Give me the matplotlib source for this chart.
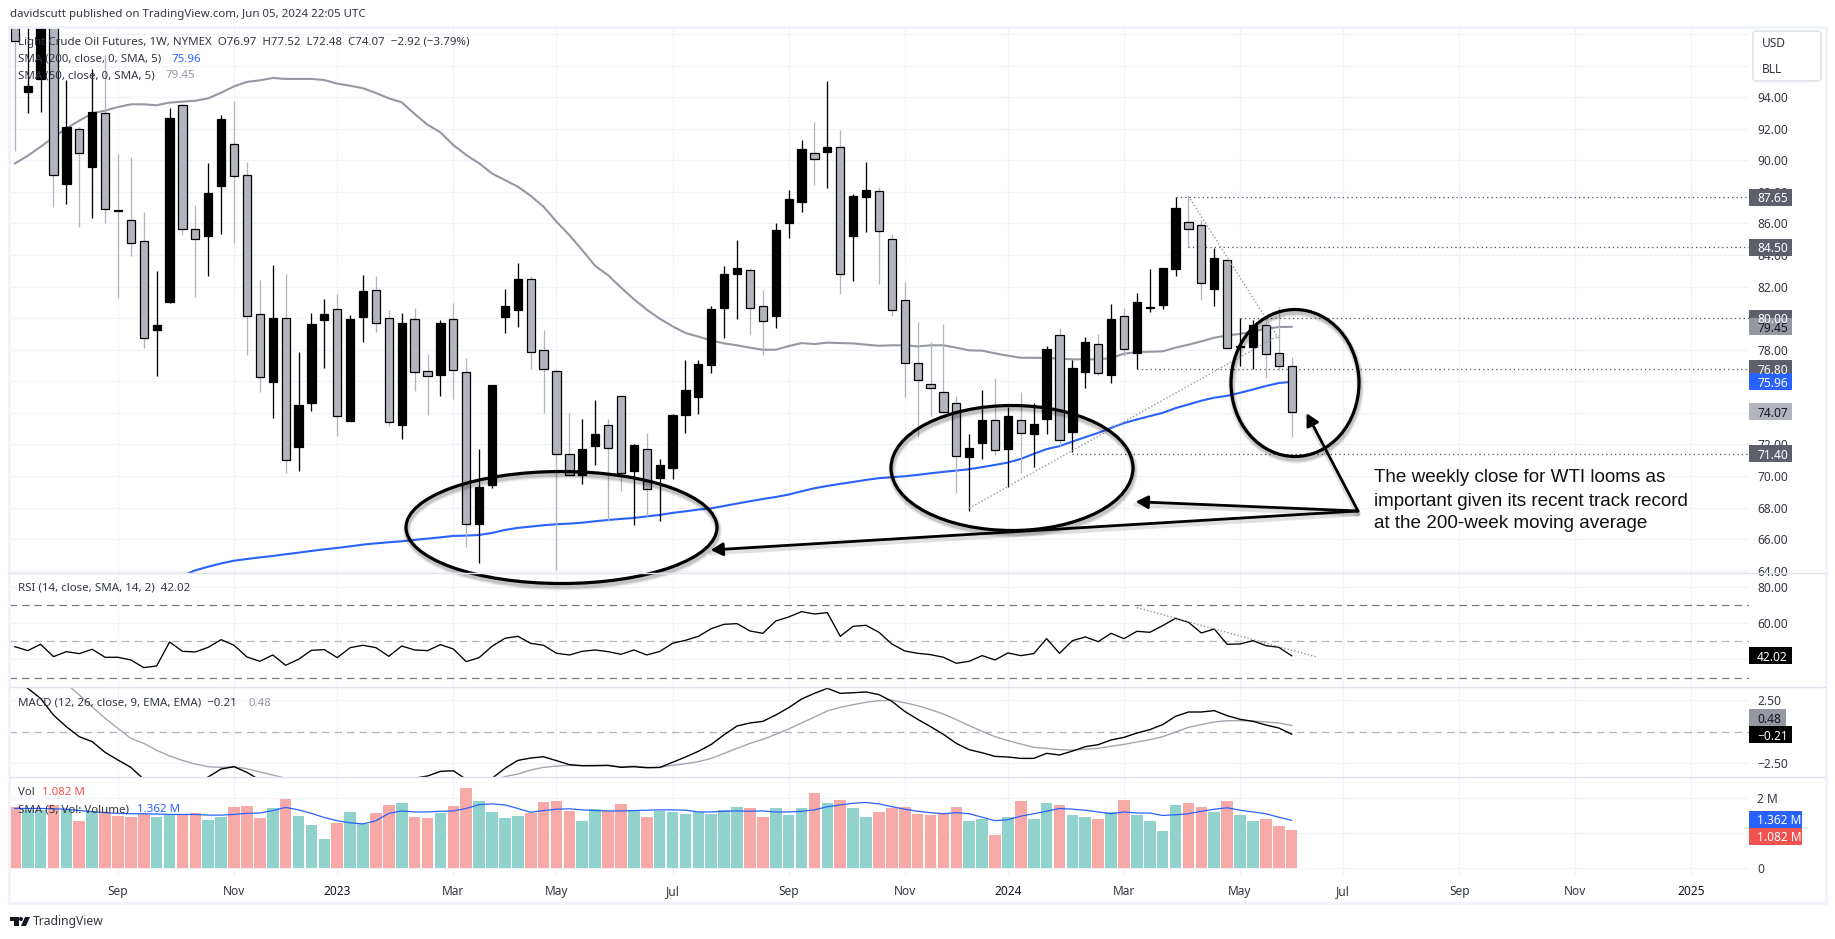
import numpy as np
import matplotlib
matplotlib.use("Agg")
import matplotlib.pyplot as plt
import matplotlib.patches as patches

plt.rcParams["font.family"] = ["Noto Sans", "DejaVu Sans"]

# week index: 0 is the week of Sep 05 2022
weeks = np.arange(-8, 92)

opens = [100.0, 94.35, 95.14, 99.5, 88.47, 91.96, 89.59, 92.98, 86.85, 86.25,
         84.86, 79.23, 81.03, 93.49, 85.62, 85.22, 88.39, 91.01, 89.04, 80.28,
         75.95, 80.03, 71.82, 74.62, 79.86, 80.6, 73.47, 80.07, 81.81, 80.03,
         73.22, 79.97, 76.67, 76.39, 79.97, 76.6, 66.96, 69.43, 80.07, 80.54,
         82.51, 78.0, 76.67, 71.4, 70.05, 71.89, 73.24, 75.08, 70.3, 71.72,
         69.86, 70.49, 73.85, 75.0, 77.05, 80.65, 82.8, 83.08, 80.79, 80.12,
         86.04, 87.37, 90.44, 90.54, 90.82, 85.21, 87.69, 88.03, 85.04, 81.17,
         77.18, 75.84, 75.34, 74.62, 71.19, 72.08, 73.56, 71.7, 73.56, 72.65,
         73.6, 78.95, 72.78, 76.58, 78.38, 76.39, 80.16, 77.79, 80.62, 80.83,
         83.12, 86.12, 85.93, 81.85, 83.71, 78.18, 78.17, 79.59, 77.79, 76.97]
highs = [101.0, 99.5, 100.0, 101.0, 95.09, 92.13, 95.77, 96.68, 90.4, 90.19,
         86.72, 82.97, 93.3, 93.55, 87.16, 89.81, 92.87, 93.76, 89.87, 82.4,
         83.36, 82.78, 77.83, 80.35, 81.19, 81.51, 80.18, 82.72, 82.66, 80.54,
         80.35, 80.67, 77.75, 79.9, 80.98, 77.49, 71.72, 75.74, 81.83, 83.52,
         82.66, 79.23, 76.77, 73.98, 73.64, 74.79, 73.58, 75.08, 72.03, 72.75,
         71.08, 73.94, 77.36, 77.32, 80.75, 83.29, 84.94, 83.2, 81.77, 86.06,
         88.11, 91.28, 92.43, 95.03, 91.92, 87.84, 89.87, 88.3, 85.32, 82.27,
         79.78, 78.51, 79.65, 75.08, 72.63, 75.42, 76.22, 74.36, 75.29, 74.64,
         78.25, 79.38, 77.32, 78.8, 78.97, 80.88, 80.67, 81.62, 83.14, 83.2,
         87.65, 87.73, 86.25, 84.47, 83.71, 80.03, 79.86, 79.76, 80.69, 77.52]
lows = [90.6, 92.98, 93.08, 87.06, 87.23, 85.79, 86.36, 86.04, 81.3, 83.95,
        78.1, 76.31, 80.96, 85.28, 81.34, 82.68, 85.36, 84.77, 77.66, 75.31,
        73.66, 70.17, 70.3, 74.11, 76.84, 72.52, 73.47, 78.49, 79.12, 73.16,
        72.33, 75.38, 73.86, 75.06, 74.87, 65.48, 64.46, 69.24, 79.06, 79.44,
        76.77, 73.98, 64.05, 70.05, 69.46, 70.72, 67.17, 69.07, 66.9, 67.44,
        67.13, 69.79, 72.71, 73.9, 76.52, 78.74, 79.95, 78.99, 77.64, 79.38,
        85.09, 86.74, 88.45, 88.26, 81.55, 82.36, 85.47, 82.17, 80.14, 75.0,
        72.46, 73.83, 74.0, 68.91, 67.77, 71.07, 71.3, 69.33, 70.17, 70.56,
        72.63, 71.93, 71.55, 75.57, 76.37, 75.89, 77.62, 76.8, 80.39, 80.58,
        82.68, 84.5, 81.15, 80.77, 78.02, 76.96, 76.77, 76.2, 76.73, 72.48]
closes = [97.58, 94.71, 99.0, 89.04, 92.09, 90.44, 93.04, 86.89, 86.8, 84.79,
          78.76, 79.54, 92.66, 85.62, 85.03, 87.92, 92.6, 88.98, 80.16, 76.27,
          80.03, 71.02, 74.51, 79.61, 80.28, 73.81, 79.93, 81.7, 79.71, 73.43,
          79.71, 76.6, 76.33, 79.71, 76.73, 66.96, 69.33, 75.74, 80.75, 82.51,
          77.87, 76.8, 71.4, 70.05, 71.72, 72.67, 71.76, 70.19, 71.97, 69.18,
          70.7, 73.87, 75.46, 77.11, 80.6, 82.82, 83.2, 80.65, 79.84, 85.57,
          87.52, 90.75, 90.06, 90.82, 82.82, 87.73, 88.09, 85.53, 80.54, 77.18,
          76.1, 75.59, 74.07, 71.27, 71.78, 73.56, 71.66, 73.81, 72.73, 73.31,
          78.06, 72.29, 76.86, 78.51, 76.54, 79.97, 78.06, 81.05, 80.7, 83.2,
          86.97, 85.68, 82.23, 83.84, 78.13, 78.25, 79.59, 77.75, 76.99, 74.07]

sma_50 = [89.8, 90.29, 90.86, 91.46, 92.03, 92.51, 92.98, 93.15, 93.38, 93.55,
          93.55, 93.49, 93.66, 93.72, 93.78, 93.93, 94.29, 94.69, 94.97, 95.07,
          95.22, 95.16, 95.16, 95.16, 95.09, 94.86, 94.73, 94.57, 94.27, 93.93,
          93.68, 92.94, 92.26, 91.77, 90.97, 90.34, 89.81, 89.17, 88.75, 88.33,
          87.75, 87.06, 86.11, 85.26, 84.31, 83.31, 82.72, 81.94, 81.2, 80.54,
          79.97, 79.48, 79.06, 78.83, 78.59, 78.4, 78.28, 78.13, 78.0, 78.0,
          78.23, 78.42, 78.36, 78.45, 78.42, 78.4, 78.32, 78.25, 78.28, 78.28,
          78.21, 78.28, 78.28, 78.13, 77.96, 77.94, 77.77, 77.62, 77.49, 77.49,
          77.47, 77.43, 77.39, 77.39, 77.39, 77.47, 77.75, 77.85, 77.87, 77.9,
          78.13, 78.32, 78.53, 78.76, 78.91, 79.0, 79.14, 79.33, 79.44, 79.45]
sma_200 = [np.nan, np.nan, np.nan, np.nan, np.nan, np.nan, np.nan, np.nan, np.nan, np.nan,
           np.nan, np.nan, np.nan, 63.68, 64.02, 64.25, 64.46, 64.63, 64.74, 64.84,
           64.93, 65.04, 65.14, 65.25, 65.35, 65.44, 65.54, 65.65, 65.73, 65.8,
           65.86, 65.95, 66.03, 66.11, 66.2, 66.22, 66.26, 66.39, 66.58, 66.71,
           66.79, 66.88, 66.94, 66.98, 67.04, 67.13, 67.21, 67.28, 67.34, 67.44,
           67.53, 67.66, 67.76, 67.87, 67.95, 68.1, 68.25, 68.4, 68.54, 68.67,
           68.82, 69.03, 69.22, 69.37, 69.5, 69.62, 69.75, 69.86, 69.92, 69.98,
           70.07, 70.17, 70.26, 70.34, 70.43, 70.56, 70.7, 70.85, 71.08, 71.4,
           71.7, 71.89, 72.18, 72.46, 72.73, 73.05, 73.35, 73.58, 73.79, 74.0,
           74.3, 74.53, 74.77, 74.96, 75.08, 75.27, 75.48, 75.7, 75.89, 75.96]

rsi = [47.05, 44.86, 48.34, 41.56, 44.3, 43.2, 45.6, 41.2, 41.2, 39.73,
       35.52, 36.43, 49.62, 44.49, 44.13, 46.69, 50.9, 47.79, 41.38, 39.0,
       42.48, 36.8, 40.1, 45.04, 45.41, 41.01, 46.5, 47.79, 46.5, 41.74,
       47.42, 45.22, 44.86, 48.16, 45.77, 38.81, 41.01, 47.24, 51.63, 52.73,
       48.89, 47.79, 43.4, 42.48, 44.49, 45.22, 44.3, 42.84, 45.22, 42.48,
       44.4, 48.89, 50.54, 52.73, 56.94, 59.33, 59.7, 55.66, 54.38, 61.16,
       63.36, 66.29, 65.0, 65.74, 52.73, 58.23, 58.78, 54.93, 48.52, 44.68,
       43.4, 42.66, 41.2, 37.9, 39.0, 42.11, 39.73, 43.58, 42.11, 43.2,
       51.45, 43.4, 50.35, 52.37, 49.8, 54.38, 51.45, 55.48, 54.93, 58.6,
       62.62, 60.43, 54.56, 56.76, 48.34, 48.52, 50.35, 47.6, 46.69, 42.02]

macd_line = [4.3, 3.43, 2.63, 1.31, 0.38, -0.41, -0.8, -1.65, -2.26, -2.84,
             -3.79, -4.6, -4.9, -4.6, -4.2, -3.6, -2.97, -2.79, -3.24, -3.85,
             -4.1, -4.6, -4.9, -5.0, -4.9, -4.9, -4.7, -4.5, -4.5, -4.6,
             -4.3, -3.7, -3.53, -3.16, -3.11, -3.79, -4.4, -3.71, -2.92, -2.29,
             -2.1, -2.0, -2.31, -2.63, -2.71, -2.71, -2.68, -2.84, -2.79, -2.87,
             -2.85, -2.44, -2.02, -1.57, -1.02, -0.25, 0.44, 0.68, 0.81, 1.31,
             1.89, 2.58, 3.03, 3.43, 3.03, 3.08, 3.14, 2.93, 2.4, 1.6,
             0.97, 0.39, -0.22, -0.94, -1.44, -1.68, -1.97, -2.02, -2.13, -2.13,
             -1.73, -1.86, -1.55, -1.2, -1.04, -0.67, -0.46, -0.12, 0.15, 0.55,
             1.21, 1.55, 1.55, 1.66, 1.26, 0.97, 0.81, 0.52, 0.28, -0.21]
macd_signal = [6.0, 5.5, 5.0, 4.5, 3.8, 2.9, 1.97, 1.05, 0.25, -0.54,
               -0.94, -1.49, -1.94, -2.29, -2.58, -2.79, -2.84, -2.79, -2.95, -3.21,
               -3.45, -3.71, -4.0, -4.2, -4.4, -4.5, -4.6, -4.6, -4.6, -4.6,
               -4.5, -4.4, -4.3, -4.1, -4.0, -3.95, -4.0, -3.95, -3.58, -3.37,
               -3.05, -2.84, -2.74, -2.68, -2.71, -2.68, -2.71, -2.79, -2.74, -2.84,
               -2.84, -2.68, -2.55, -2.39, -2.13, -1.73, -1.33, -0.94, -0.62, -0.22,
               0.2, 0.68, 1.15, 1.63, 1.92, 2.13, 2.32, 2.45, 2.48, 2.29,
               2.05, 1.74, 1.39, 0.94, 0.47, 0.02, -0.41, -0.72, -0.99, -1.25,
               -1.33, -1.44, -1.47, -1.41, -1.33, -1.17, -1.02, -0.83, -0.65, -0.41,
               -0.04, 0.33, 0.55, 0.76, 0.86, 0.86, 0.84, 0.76, 0.68, 0.48]

volume = [1.73, 1.66, 1.66, 1.79, 1.68, 1.34, 1.61, 1.61, 1.49, 1.46,
          1.53, 1.46, 1.53, 1.53, 1.56, 1.37, 1.46, 1.74, 1.77, 1.43,
          1.71, 1.97, 1.49, 1.23, 0.83, 1.29, 1.6, 1.26, 1.57, 1.8,
          1.86, 1.46, 1.43, 1.58, 1.77, 2.29, 1.91, 1.6, 1.43, 1.49,
          1.57, 1.89, 1.91, 1.63, 1.34, 1.69, 1.63, 1.83, 1.66, 1.46,
          1.64, 1.6, 1.55, 1.6, 1.55, 1.65, 1.75, 1.7, 1.45, 1.7,
          1.5, 1.7, 2.15, 1.85, 1.95, 1.7, 1.45, 1.6, 1.7, 1.75,
          1.55, 1.5, 1.55, 1.75, 1.35, 1.4, 0.95, 1.45, 1.9, 1.4,
          1.85, 1.8, 1.5, 1.45, 1.4, 1.6, 1.95, 1.5, 1.35, 1.05,
          1.8, 1.85, 1.75, 1.6, 1.9, 1.5, 1.35, 1.4, 1.2, 1.082]
volume_sma = [1.7, 1.7, 1.7, 1.69, 1.68, 1.64, 1.61, 1.58, 1.56, 1.55,
              1.55, 1.54, 1.53, 1.53, 1.53, 1.51, 1.51, 1.53, 1.56, 1.57,
              1.64, 1.73, 1.66, 1.56, 1.44, 1.35, 1.29, 1.26, 1.35, 1.56,
              1.63, 1.6, 1.6, 1.62, 1.63, 1.7, 1.81, 1.83, 1.8, 1.7,
              1.59, 1.64, 1.68, 1.69, 1.66, 1.64, 1.63, 1.63, 1.64, 1.65,
              1.66, 1.66, 1.65, 1.6, 1.6, 1.62, 1.63, 1.62, 1.63, 1.6,
              1.6, 1.62, 1.66, 1.75, 1.8, 1.85, 1.87, 1.83, 1.75, 1.68,
              1.62, 1.58, 1.55, 1.58, 1.55, 1.45, 1.35, 1.38, 1.48, 1.55,
              1.62, 1.7, 1.68, 1.65, 1.6, 1.55, 1.6, 1.57, 1.57, 1.5,
              1.52, 1.55, 1.62, 1.68, 1.72, 1.65, 1.6, 1.55, 1.45, 1.362]

price_ticks = [64, 66, 68, 70, 72, 74, 76, 78, 80, 82, 84, 86, 88, 90, 92, 94, 96, 98]
hidden_price_ticks = [96, 98]
rsi_ticks = [40, 60, 80]
macd_ticks = [-2.5, 2.5]
vol_ticks = [0, 1, 2]
time_ticks = [0, 9, 17, 26, 34, 43, 52, 61, 69, 78, 87, 95, 104, 113, 122]
time_labels = ["Sep", "Nov", "2023", "Mar", "May", "Jul", "Sep", "Nov", "2024", "Mar", "May", "Jul", "Sep", "Nov", "2025"]

# horizontal levels drawn on the chart: (first week, price)
levels = [(82, 87.65), (83, 84.5), (87, 80.0), (79, 76.8), (74, 71.4)]
trend_down = ([83, 90], [87.73, 78.7])
trend_up = ([66, 90], [67.96, 78.9])
rsi_trend = ([79, 93], [68.5, 41.2])

W, H = 1835, 939
LEFT, RIGHT = 9, 1749
TEXT = "#333740"
GRID = "#f0f3fa"
SEP = "#e0e3eb"
BODY_GRAY = "#b2b5be"
LINE_GRAY = "#9598a1"
BLUE = "#2962ff"
RED = "#ef5350"
TAG = "#5d606b"
FS = 8.6
LEGEND_FS = 8.27


def pane(top, bottom, ylim, yticks):
    ax = fig.add_axes([LEFT / W, 1 - bottom / H, (RIGHT - LEFT) / W, (bottom - top) / H])
    ax.set_xlim(-8.45, 126.46)
    ax.set_ylim(*ylim)
    ax.set_yticks(yticks)
    ax.set_xticks(time_ticks)
    ax.set_xticklabels([])
    ax.yaxis.tick_right()
    ax.tick_params(length=0, labelsize=FS, labelcolor=TEXT, pad=5.8)
    ax.grid(True, color=GRID, linewidth=0.9)
    ax.set_axisbelow(True)
    for s in ax.spines.values():
        s.set_visible(False)
    return ax


fig = plt.figure(figsize=(W / 100, H / 100), dpi=100, facecolor="white")

ax_main = pane(27, 572.7, (63.87, 98.45), price_ticks)
ax_rsi = pane(572.7, 687.3, (24.7, 87.7), rsi_ticks)
ax_macd = pane(687.3, 777.3, (-3.63, 3.51), macd_ticks)
ax_vol = pane(777.3, 875.7, (-0.22, 2.59), vol_ticks)

ax_main.set_yticklabels(["" if t in hidden_price_ticks else f"{t:.2f}" for t in price_ticks])
ax_rsi.set_yticklabels([f"{t:.2f}" for t in rsi_ticks])
ax_macd.set_yticklabels(["\u22122.50", "2.50"])
ax_vol.set_yticklabels(["0", "1 M", "2 M"])

ax_vol.set_xticklabels(time_labels)
ax_vol.tick_params(axis="x", pad=7, labelcolor=TEXT)
for lbl in ax_vol.get_xticklabels():
    if lbl.get_text().startswith("20"):
        lbl.set_fontweight("semibold")
        lbl.set_color("#131722")

# moving averages sit behind the candles
ax_main.plot(weeks, sma_50, color=LINE_GRAY, lw=1.5, zorder=2)
ax_main.plot(weeks, sma_200, color=BLUE, lw=1.5, zorder=2)

o = np.array(opens)
c = np.array(closes)
up = c >= o
wick_colors = ["black" if u else BODY_GRAY for u in up]
ax_main.vlines(weeks, lows, highs, colors=wick_colors, lw=0.95, zorder=3)
ax_main.bar(weeks[up], (c - o)[up], bottom=o[up], width=0.64, color="black", edgecolor="black", lw=0.9, zorder=4)
ax_main.bar(weeks[~up], (o - c)[~up], bottom=c[~up], width=0.64, color=BODY_GRAY, edgecolor="black", lw=0.9, zorder=4)

for start, level in levels:
    ax_main.hlines(level, start, 126.46, colors="#50535e", lw=0.9, linestyles=(0, (1, 2.5)), zorder=3)
ax_main.plot(*trend_down, color="#9598a1", lw=1, ls=(0, (1, 1.5)), zorder=5)
ax_main.plot(*trend_up, color="#9598a1", lw=1, ls=(0, (1, 1.5)), zorder=5)

# RSI
ax_rsi.axhline(70, color="#787b86", lw=0.9, ls=(0, (6, 4)))
ax_rsi.axhline(50, color=BODY_GRAY, lw=0.9, ls=(0, (6, 4)))
ax_rsi.axhline(30, color="#787b86", lw=0.9, ls=(0, (6, 4)))
ax_rsi.plot(weeks, rsi, color="black", lw=0.95)
ax_rsi.plot(*rsi_trend, color="#9598a1", lw=1, ls=(0, (1, 1.5)))

# MACD
ax_macd.axhline(0, color=BODY_GRAY, lw=0.9, ls=(0, (6, 4)))
ax_macd.plot(weeks, macd_signal, color="#a3a6af", lw=1)
ax_macd.plot(weeks, macd_line, color="black", lw=1)

# Volume
vol_colors = ["#92d2cc" if u else "#f7a9a7" for u in up]
ax_vol.bar(weeks, volume, width=0.9, color=vol_colors, zorder=2)
ax_vol.plot(weeks, volume_sma, color=BLUE, lw=0.9, zorder=3)

# overlay in pixel coordinates for frame, tags, drawings and text
ov = fig.add_axes([0, 0, 1, 1], zorder=10)
ov.set_xlim(0, W)
ov.set_ylim(H, 0)
ov.axis("off")
ov.patch.set_alpha(0)

ov.add_patch(patches.Rectangle((8.5, 27), 1817, 876, fill=False, edgecolor=GRID, lw=2))
for y in (572.7, 687.3, 777.3):
    ov.plot([9, 1825], [y, y], color=SEP, lw=1)


def value_y(ax, value):
    px = ax.transData.transform((0, value))[1]
    return H - px


def tag(ax, value, label, bg, fg="white", width=43):
    y = value_y(ax, value)
    ov.add_patch(patches.Rectangle((RIGHT, y - 8.5), width, 17, color=bg, lw=0))
    ov.text(RIGHT + 8, y, label, color=fg, fontsize=FS, va="center_baseline", ha="left")


tag(ax_main, 87.65, "87.65", TAG)
tag(ax_main, 84.5, "84.50", TAG)
tag(ax_main, 80.0, "80.00", TAG)
tag(ax_main, 79.45, "79.45", "#9598a1", "#131722")
tag(ax_main, 76.8, "76.80", TAG)
tag(ax_main, 75.96, "75.96", BLUE)
tag(ax_main, 74.07, "74.07", BODY_GRAY, "#131722")
tag(ax_main, 71.4, "71.40", TAG)
tag(ax_rsi, 42.02, "42.02", "black")
tag(ax_macd, 1.1, "0.48", "#9598a1", "#131722", 37)
tag(ax_macd, -0.25, "\u22120.21", "black")
tag(ax_vol, 1.39, "1.362 M", BLUE, width=53)
tag(ax_vol, 0.9, "1.082 M", RED, width=53)

# currency box
ov.add_patch(patches.FancyBboxPatch((1755, 33), 64, 46, boxstyle="round,pad=2,rounding_size=3",
                                    facecolor="white", edgecolor=SEP, lw=1.2))
ov.text(1762, 43.5, "USD", fontsize=FS, color=TEXT, va="center")
ov.text(1762, 69.5, "BLL", fontsize=FS, color=TEXT, va="center")

# legend texts
ov.text(10, 15, "davidscutt published on TradingView.com, Jun 05, 2024 22:05 UTC", fontsize=LEGEND_FS, color=TEXT, va="center")
ov.text(18, 42, "Light Crude Oil Futures, 1W, NYMEX  O76.97  H77.52  L72.48  C74.07  \u22122.92 (\u22123.79%)",
        fontsize=LEGEND_FS, color=TEXT, va="center")
ov.text(18, 59, "SMA (200, close, 0, SMA, 5)", fontsize=LEGEND_FS, color=TEXT, va="center")
ov.text(171, 59, "75.96", fontsize=LEGEND_FS, color=BLUE, va="center")
ov.text(18, 76, "SMA (50, close, 0, SMA, 5)", fontsize=LEGEND_FS, color=TEXT, va="center")
ov.text(165, 76, "79.45", fontsize=LEGEND_FS, color=LINE_GRAY, va="center")
ov.text(18, 588, "RSI (14, close, SMA, 14, 2)  42.02", fontsize=LEGEND_FS, color=TEXT, va="center")
ov.text(18, 703, "MACD (12, 26, close, 9, EMA, EMA)  \u22120.21", fontsize=LEGEND_FS, color=TEXT, va="center")
ov.text(248, 703, "0.48", fontsize=LEGEND_FS, color=LINE_GRAY, va="center")
ov.text(18, 792.7, "Vol", fontsize=LEGEND_FS, color=TEXT, va="center")
ov.text(42, 792.7, "1.082 M", fontsize=LEGEND_FS, color=RED, va="center")
ov.text(18, 810, "SMA (5, Vol: Volume)", fontsize=LEGEND_FS, color=TEXT, va="center")
ov.text(137, 810, "1.362 M", fontsize=LEGEND_FS, color=BLUE, va="center")

# logo and footer
ov.add_patch(patches.Polygon([(10, 917), (18.5, 917), (18.5, 926), (14, 926), (14, 921), (10, 921)], color="#131722", lw=0))
ov.add_patch(patches.Circle((21, 919), 2, color="#131722", lw=0))
ov.add_patch(patches.Polygon([(25, 917), (30, 917), (26, 926), (21, 926)], color="#131722", lw=0))
ov.text(33, 921, "TradingView", fontsize=8.75, color=TEXT, va="center")

# hand drawn circles with their soft shadow
for cx, cy, w, h in [(561.5, 527.5, 311, 112), (1012, 468, 242, 125), (1295, 383, 128, 147)]:
    for lw, alpha in [(6, 0.05), (4.5, 0.08), (3, 0.12)]:
        ov.add_patch(patches.Ellipse((cx + 1, cy + 3), w, h, fill=False, edgecolor="black", lw=lw, alpha=alpha))
    ov.add_patch(patches.Ellipse((cx, cy), w, h, fill=False, edgecolor="black", lw=2.3))

# arrows from the note to each zone
for tip in [(1306.7, 413.3), (1135.7, 501.7), (710.7, 550)]:
    ov.annotate("", xy=(tip[0], tip[1] + 3), xytext=(1358, 514),
                arrowprops=dict(arrowstyle="-", color="black", lw=3.5, alpha=0.12, shrinkA=0, shrinkB=0))
    ov.annotate("", xy=tip, xytext=(1358, 511),
                arrowprops=dict(arrowstyle="-|>,head_length=0.55,head_width=0.3", color="black", lw=2,
                                mutation_scale=13, shrinkA=0, shrinkB=0))

note = ["The weekly close for WTI looms as", "important given its recent track record", "at the 200-week moving average"]
for i, line in enumerate(note):
    ov.text(1374, 478 + i * 23, line, family="Liberation Sans", fontsize=13.55, color="#111111", va="center")

fig.savefig("out.png", dpi=100)
